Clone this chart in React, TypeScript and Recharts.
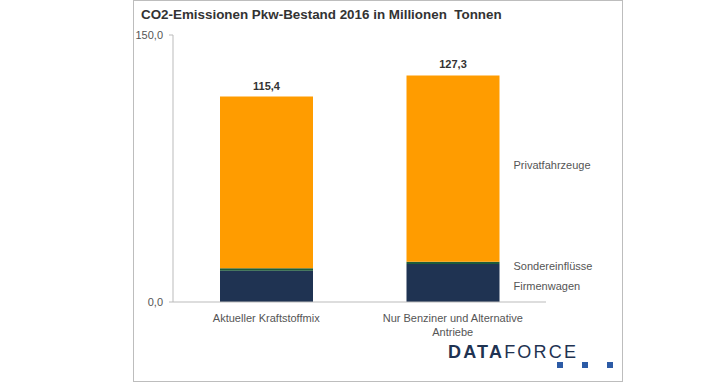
import { Bar, BarChart, LabelList, XAxis, YAxis } from "recharts";

const categories = ["Aktueller Kraftstoffmix", "Nur Benziner und Alternative\nAntriebe"];
const firmenwagen = [17.5, 21.3];
const sondereinfluesse = [1.4, 1.3];
const privatfahrzeuge = [96.5, 104.7];
const yTicks = [0, 150];

const data = categories.map((name, i) => ({
  name,
  firmenwagen: firmenwagen[i],
  sonder: sondereinfluesse[i],
  privat: privatfahrzeuge[i],
  total: firmenwagen[i] + sondereinfluesse[i] + privatfahrzeuge[i],
}));

const FONT = "'Liberation Sans', Arial, sans-serif";
const fmt = (v: number) => v.toFixed(1).replace(".", ",");

// names written to the right of the last bar
function sideLabel(text: string, dy: number) {
  return (props: any) => {
    if (props.index !== data.length - 1) return null;
    const { x, y, width, height } = props;
    return (
      <text
        x={x + width + 14}
        y={y + height / 2 + dy}
        dominantBaseline="central"
        fontSize={11}
        fill="#555"
        fontFamily={FONT}
      >
        {text}
      </text>
    );
  };
}

function totalLabel(props: any) {
  const { x, y, width, index } = props;
  return (
    <text
      x={x + width / 2}
      y={y - 11}
      textAnchor="middle"
      dominantBaseline="central"
      fontSize={11}
      fontWeight={700}
      fill="#333"
      fontFamily={FONT}
    >
      {fmt(data[index].total)}
    </text>
  );
}

function CategoryTick({ x, y, payload }: any) {
  const lines = String(payload.value).split("\n");
  return (
    <text x={x} y={y + 2} textAnchor="middle" fontSize={11} fill="#555" fontFamily={FONT}>
      {lines.map((line, i) => (
        <tspan key={i} x={x} dy={i === 0 ? "0.95em" : 14}>
          {line}
        </tspan>
      ))}
    </text>
  );
}

export default function App() {
  return (
    <div style={{ position: "fixed", left: 0, top: 0, width: 720, height: 383, background: "#fff" }}>
      <div
        style={{
          position: "absolute",
          left: 133,
          top: 0,
          width: 488,
          height: 380,
          border: "1px solid #bdbdbd",
        }}
      />
      <div
        style={{
          position: "absolute",
          left: 141,
          top: 7,
          fontFamily: FONT,
          fontWeight: 700,
          fontSize: 13.4,
          color: "#333",
          whiteSpace: "pre",
        }}
      >
        CO2-Emissionen Pkw-Bestand 2016 in Millionen  Tonnen
      </div>
      <div style={{ position: "absolute", left: 0, top: 0 }}>
        <BarChart
          width={720}
          height={383}
          data={data}
          margin={{ top: 35, right: 174, bottom: 41, left: 133 }}
        >
          <YAxis
            width={40}
            domain={[0, 150]}
            ticks={yTicks}
            tickFormatter={fmt}
            tickSize={4}
            tickMargin={6}
            stroke="#bbb"
            tick={{ fontSize: 11, fill: "#555", fontFamily: FONT }}
          />
          <XAxis
            dataKey="name"
            tickLine={false}
            stroke="#bbb"
            height={40}
            tick={<CategoryTick />}
            interval={0}
          />
          <Bar dataKey="firmenwagen" stackId="a" fill="#1f3352" barSize={93} isAnimationActive={false}>
            <LabelList dataKey="firmenwagen" content={sideLabel("Firmenwagen", 3)} />
          </Bar>
          <Bar dataKey="sonder" stackId="a" fill="#1d5c3a" barSize={93} isAnimationActive={false}>
            <LabelList dataKey="sonder" content={sideLabel("Sondereinflüsse", 3)} />
          </Bar>
          <Bar dataKey="privat" stackId="a" fill="#ff9c00" barSize={93} isAnimationActive={false}>
            <LabelList dataKey="privat" content={sideLabel("Privatfahrzeuge", -4)} />
            <LabelList dataKey="privat" content={totalLabel} />
          </Bar>
        </BarChart>
      </div>
      <div
        style={{
          position: "absolute",
          left: 448,
          top: 342,
          fontFamily: FONT,
          fontSize: 18,
          color: "#1f3352",
          letterSpacing: 2.2,
        }}
      >
        <span style={{ fontWeight: 700 }}>DATA</span>FORCE
      </div>
      {[557, 582, 607].map((left) => (
        <div
          key={left}
          style={{ position: "absolute", left, top: 362, width: 6, height: 6, background: "#2c5ba6" }}
        />
      ))}
    </div>
  );
}
